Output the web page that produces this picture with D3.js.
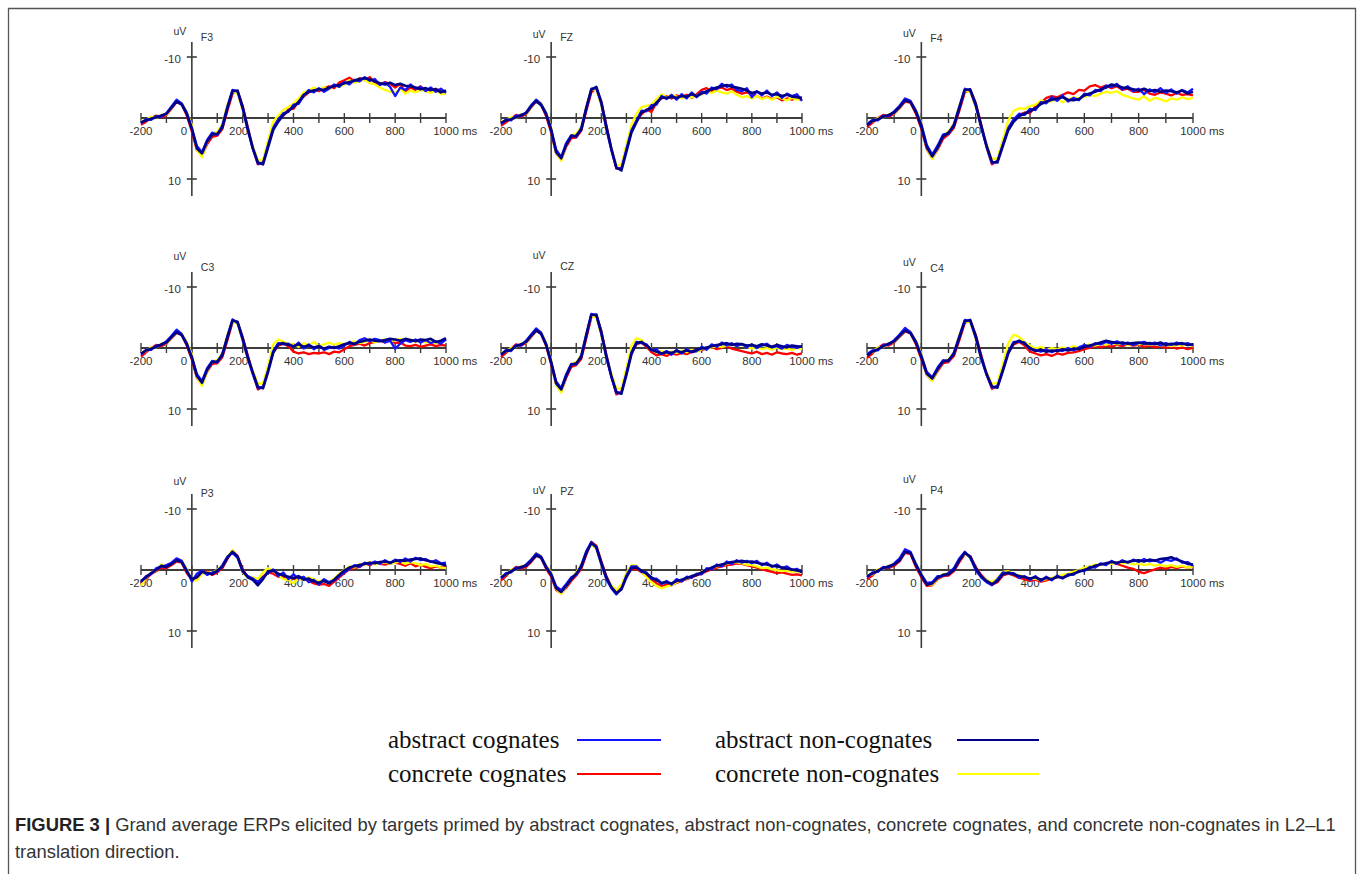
<!DOCTYPE html>
<html>
<head>
<meta charset="utf-8">
<script src="https://cdn.jsdelivr.net/npm/d3@7"></script>
<style>
  body { margin: 0; background: #fff; }
  svg { display: block; }
</style>
</head>
<body>
<svg width="1358" height="874"></svg>
<script>
// Sample times (ms) and axis ticks
var times = d3.range(-200, 1001, 20);
var xTicks = d3.range(-200, 1001, 100);
var xLabels = [-200, 0, 200, 400, 600, 800, 1000];
var yTicks = [-10, 10];

// Conditions (order of the series inside every electrode array)
var conditions = ['abstract cognates', 'concrete cognates', 'abstract non-cognates', 'concrete non-cognates'];
var colors = ['#1414ff', '#ff0000', '#00008b', '#ffff00'];
var electrodes = ['F3', 'FZ', 'F4', 'C3', 'CZ', 'C4', 'P3', 'PZ', 'P4'];

// Amplitudes in uV (negative up), every 20 ms from -200 to 1000
var F3 = [
  [0.9, 0.2, 0.3, -0.3, -0.2, -0.8, -1.9, -3.0, -2.4, -0.9,
   1.6, 4.6, 5.6, 3.6, 2.4, 2.8, 1.2, -1.9, -4.6, -4.3,
   -1.5, 2.0, 5.1, 7.5, 7.4, 4.4, 1.6, 0.2, -0.8, -1.0,
   -2.2, -2.3, -3.6, -4.6, -4.2, -4.9, -4.3, -4.8, -5.5, -5.1,
   -5.9, -5.5, -6.3, -6.0, -6.7, -6.1, -6.4, -5.4, -5.8, -5.1,
   -3.6, -5.0, -4.6, -5.5, -4.8, -5.1, -4.4, -5.0, -4.3, -4.8, -4.1],
  [1.1, 0.6, 0.0, -0.4, -0.1, -0.5, -1.5, -2.6, -2.3, -0.4,
   2.2, 5.3, 6.2, 4.3, 3.1, 2.9, 1.8, -1.2, -4.0, -4.4,
   -2.0, 1.5, 5.0, 7.6, 7.2, 4.3, 1.5, 0.3, -0.4, -1.4,
   -1.5, -2.8, -3.5, -4.2, -4.6, -4.4, -4.9, -5.2, -4.9, -5.8,
   -6.2, -6.6, -6.0, -6.5, -6.2, -6.7, -5.8, -5.5, -5.9, -5.6,
   -5.0, -5.6, -4.2, -5.0, -4.6, -5.2, -4.5, -4.3, -4.8, -4.4, -4.3],
  [0.7, 0.4, 0.1, -0.1, -0.4, -0.7, -1.7, -2.7, -2.2, -0.7,
   1.8, 5.0, 5.8, 3.9, 2.7, 2.6, 1.6, -1.6, -4.4, -4.5,
   -1.8, 1.7, 4.9, 7.3, 7.6, 4.8, 2.0, 0.6, -0.5, -1.2,
   -1.8, -2.6, -3.8, -4.3, -4.5, -4.7, -4.6, -5.0, -5.2, -5.4,
   -5.7, -5.9, -6.1, -6.4, -6.5, -6.3, -6.0, -5.7, -5.5, -5.8,
   -5.4, -5.6, -5.3, -5.2, -5.0, -4.7, -4.9, -4.6, -4.7, -4.2, -4.5],
  [0.5, 0.3, -0.2, 0.0, -0.5, -0.6, -1.6, -2.9, -2.5, -1.0,
   1.2, 5.3, 6.4, 4.0, 2.5, 2.3, 1.0, -2.2, -4.3, -4.0,
   -1.3, 2.0, 4.6, 7.0, 6.9, 3.6, 0.6, -0.4, -1.3, -1.8,
   -2.4, -3.2, -4.2, -4.5, -5.0, -4.6, -5.1, -4.7, -5.3, -5.1,
   -5.5, -6.2, -5.8, -6.0, -6.3, -5.7, -5.5, -5.0, -4.6, -4.3,
   -4.1, -4.8, -4.0, -4.5, -4.2, -4.6, -4.4, -4.1, -4.6, -3.9, -4.0]
];
var FZ = [
  [1.0, 0.2, 0.4, -0.4, -0.3, -0.9, -2.1, -3.0, -2.3, -0.8,
   1.8, 5.2, 6.4, 4.1, 2.8, 3.1, 1.6, -1.8, -4.8, -4.9,
   -2.3, 1.8, 5.3, 8.2, 8.3, 5.1, 2.0, 0.4, -1.2, -1.1,
   -2.1, -2.2, -3.6, -3.1, -3.8, -3.0, -3.9, -3.2, -4.2, -3.4,
   -4.3, -4.0, -5.0, -4.7, -5.6, -5.1, -5.5, -4.6, -4.4, -4.9,
   -3.4, -4.4, -3.7, -4.5, -3.6, -4.2, -3.3, -4.0, -3.6, -3.9, -2.8],
  [1.3, 0.7, 0.1, -0.5, -0.2, -0.6, -1.7, -2.7, -2.2, -0.3,
   2.4, 5.8, 6.9, 4.7, 3.3, 3.2, 2.1, -1.2, -4.2, -4.9,
   -2.7, 1.2, 5.1, 8.3, 8.2, 5.0, 2.1, 0.5, -0.6, -1.4,
   -1.0, -2.6, -3.2, -3.6, -3.2, -3.7, -3.4, -3.8, -3.3, -3.9,
   -4.6, -4.9, -4.4, -4.8, -5.0, -4.6, -4.8, -4.3, -4.0, -4.2,
   -3.9, -3.6, -3.2, -3.5, -3.1, -3.4, -2.9, -3.2, -3.0, -3.3, -2.9],
  [0.8, 0.4, 0.2, -0.1, -0.5, -0.8, -1.9, -2.8, -2.1, -0.6,
   2.0, 5.6, 6.6, 4.4, 3.0, 2.9, 1.9, -1.5, -4.6, -5.1,
   -2.6, 1.4, 5.0, 8.1, 8.6, 5.5, 2.4, 0.7, -0.9, -1.3,
   -1.6, -2.5, -3.4, -3.3, -3.5, -3.3, -3.6, -3.5, -3.9, -3.6,
   -4.0, -4.4, -4.7, -5.0, -5.2, -5.4, -5.1, -5.0, -4.8, -4.5,
   -4.1, -4.3, -4.0, -4.2, -3.8, -3.9, -3.6, -3.8, -3.5, -3.4, -3.3],
  [0.6, 0.3, -0.1, 0.0, -0.6, -0.7, -1.8, -2.9, -2.4, -0.9,
   1.5, 5.7, 7.0, 4.4, 2.8, 2.6, 1.4, -2.0, -4.7, -4.6,
   -2.0, 2.0, 5.0, 7.8, 7.6, 4.4, 1.1, -0.7, -1.8, -2.0,
   -2.2, -3.1, -3.9, -3.4, -3.8, -3.5, -3.2, -3.6, -3.4, -3.7,
   -3.9, -4.3, -4.1, -4.5, -4.2, -4.0, -4.4, -3.8, -3.4, -3.6,
   -3.2, -3.6, -3.1, -3.4, -3.0, -3.5, -3.2, -2.9, -3.3, -3.0, -3.1]
];
var F4 = [
  [1.0, 0.3, 0.4, -0.4, -0.3, -1.1, -2.0, -3.2, -2.8, -1.2,
   1.0, 4.4, 6.0, 4.5, 2.7, 2.6, 1.0, -1.9, -4.8, -4.5,
   -2.0, 1.5, 4.7, 7.4, 7.1, 4.3, 1.6, 0.2, -0.7, -0.5,
   -1.5, -1.3, -2.6, -2.4, -3.4, -2.8, -3.7, -2.7, -3.3, -2.9,
   -4.0, -3.7, -4.6, -4.4, -5.3, -5.1, -5.6, -4.7, -5.2, -4.4,
   -4.8, -3.9, -4.7, -4.2, -4.9, -4.1, -4.7, -4.0, -4.6, -4.2, -4.8],
  [1.5, 0.8, 0.0, -0.5, -0.2, -0.7, -1.6, -2.7, -2.5, -0.7,
   1.8, 5.1, 6.6, 5.2, 3.4, 2.7, 1.6, -1.2, -4.2, -4.6,
   -2.5, 1.0, 4.8, 7.6, 7.0, 4.2, 1.7, 0.4, -0.5, -0.9,
   -0.8, -1.9, -2.5, -3.3, -3.6, -3.4, -3.8, -4.2, -3.9, -4.6,
   -4.5, -5.2, -5.4, -5.0, -5.3, -4.9, -5.2, -4.6, -4.8, -4.3,
   -4.3, -4.6, -4.0, -3.8, -4.2, -4.0, -3.7, -4.1, -3.8, -3.9, -3.7],
  [1.2, 0.5, 0.2, -0.2, -0.5, -0.9, -1.8, -2.9, -2.6, -1.0,
   1.4, 4.8, 6.3, 4.9, 3.0, 2.4, 1.3, -1.6, -4.6, -4.7,
   -2.3, 1.2, 4.5, 7.2, 7.3, 4.6, 2.0, 0.6, -0.3, -0.7,
   -1.1, -1.6, -2.3, -2.7, -3.0, -3.2, -3.4, -3.0, -2.9, -3.1,
   -3.7, -4.0, -4.3, -4.7, -5.0, -5.5, -5.3, -5.0, -4.9, -4.7,
   -4.5, -4.8, -4.4, -4.6, -4.3, -4.5, -4.4, -4.2, -4.5, -4.0, -4.3],
  [0.8, 0.6, 0.0, -0.1, -0.6, -0.8, -1.7, -3.0, -2.7, -1.3,
   0.8, 5.0, 6.7, 5.0, 2.8, 2.2, 0.9, -2.1, -4.5, -4.3,
   -1.8, 1.6, 4.3, 6.8, 6.6, 3.5, 0.4, -1.2, -1.6, -1.5,
   -1.9, -2.2, -2.9, -2.5, -2.8, -3.1, -2.6, -3.0, -3.4, -3.2,
   -3.5, -3.8, -3.6, -4.0, -4.3, -4.1, -4.4, -3.8, -3.5, -3.2,
   -3.0, -3.6, -2.8, -3.3, -3.1, -2.7, -3.2, -3.0, -3.4, -3.1, -3.3]
];
var C3 = [
  [1.1, 0.3, 0.3, -0.4, -0.5, -1.1, -2.0, -3.0, -2.3, -0.8,
   1.4, 4.3, 5.4, 3.3, 2.1, 2.4, 0.9, -2.0, -4.7, -4.1,
   -1.3, 1.7, 4.3, 6.6, 6.4, 3.6, 0.5, -0.8, -0.6, -0.7,
   -0.2, -0.9, 0.1, -0.6, 0.2, -0.4, 0.3, 0.0, -0.2, 0.1,
   -0.4, -1.0, -0.6, -1.3, -1.6, -1.1, -1.5, -1.3, -0.9, -1.2,
   0.1, -0.7, -1.3, -1.0, -1.4, -0.9, -1.3, -0.8, -1.1, -0.7, -1.4],
  [1.4, 0.7, 0.0, -0.5, -0.3, -0.7, -1.6, -2.5, -2.2, -0.4,
   1.9, 4.9, 6.0, 3.9, 2.6, 2.5, 1.5, -1.3, -4.2, -4.2,
   -1.8, 1.2, 4.2, 6.8, 6.3, 3.5, 0.7, -0.4, -0.7, -0.3,
   0.6, 0.9, 0.7, 1.0, 0.8, 0.9, 0.7, 1.0, 0.6, 0.7,
   0.2, -0.3, -0.5, -0.7, -0.4, -0.8, -1.0, -1.2, -0.9, -1.3,
   -0.8, -0.9, -0.4, -0.3, -0.5, -0.2, -0.4, -0.6, -0.3, -0.5, -0.4],
  [0.9, 0.4, 0.1, -0.2, -0.6, -0.9, -1.8, -2.6, -2.1, -0.6,
   1.6, 4.6, 5.7, 3.6, 2.3, 2.2, 1.2, -1.7, -4.5, -4.3,
   -1.6, 1.4, 4.0, 6.4, 6.6, 3.9, 0.8, -0.6, -0.8, -0.5,
   -0.3, -0.6, -0.2, -0.4, -0.1, -0.3, 0.1, -0.2, 0.0, -0.3,
   -0.6, -0.8, -0.7, -1.0, -1.2, -1.4, -1.2, -1.1, -1.3, -1.5,
   -1.4, -1.2, -1.5, -1.3, -1.1, -1.4, -1.3, -1.5, -1.0, -1.2, -1.6],
  [0.7, 0.5, -0.1, -0.1, -0.7, -0.8, -1.7, -2.8, -2.4, -1.0,
   1.0, 4.8, 6.2, 3.8, 2.2, 2.0, 0.8, -2.2, -4.3, -3.9,
   -1.2, 1.8, 3.7, 5.9, 5.8, 2.9, -0.6, -1.4, -1.0, -0.7,
   -0.6, -0.2, -0.8, -0.4, -1.0, -0.3, -0.6, -0.9, -0.5, -0.8,
   -0.6, -0.9, -1.1, -0.8, -1.0, -1.3, -0.9, -1.2, -1.4, -1.1,
   -1.3, -1.5, -1.2, -1.4, -1.0, -1.2, -0.9, -1.1, -0.8, -1.0, -1.2]
];
var CZ = [
  [1.2, 0.3, 0.5, -0.5, -0.4, -1.2, -2.2, -3.2, -2.5, -0.7,
   2.2, 5.5, 6.6, 4.3, 2.6, 2.7, 1.2, -2.3, -5.6, -5.3,
   -2.3, 1.6, 4.8, 7.4, 7.3, 4.1, 0.7, -1.0, -0.8, -0.6,
   0.4, 0.2, 1.0, 0.5, 1.1, 0.3, 0.9, 0.2, 0.7, 0.5,
   -0.2, 0.3, -0.6, -0.2, -0.9, -0.4, -0.8, -0.3, -0.7, -0.1,
   -0.6, 0.0, -0.4, -0.7, -0.1, -0.3, 0.1, -0.5, -0.2, 0.0, -0.3],
  [1.5, 0.8, 0.1, -0.6, -0.4, -0.8, -1.8, -2.8, -2.4, -0.3,
   2.7, 6.0, 7.1, 4.9, 3.1, 2.8, 1.8, -1.6, -5.0, -5.4,
   -2.8, 1.1, 4.5, 7.6, 7.2, 4.0, 0.8, -0.6, -0.9, -0.2,
   0.7, 1.2, 1.0, 1.3, 0.9, 1.1, 0.8, 1.0, 0.6, 0.5,
   0.3, 0.1, -0.2, 0.2, 0.0, -0.3, 0.1, 0.3, 0.5, 0.7,
   0.9, 0.6, 1.0, 0.8, 1.1, 0.7, 0.9, 1.0, 0.8, 1.1, 0.9],
  [1.0, 0.5, 0.3, -0.3, -0.6, -1.0, -2.0, -2.9, -2.3, -0.5,
   2.4, 5.8, 6.8, 4.6, 2.8, 2.5, 1.5, -2.0, -5.4, -5.5,
   -2.6, 1.3, 4.6, 7.2, 7.5, 4.4, 1.0, -0.8, -1.0, -0.4,
   0.3, 0.6, 0.9, 0.7, 0.8, 0.5, 0.7, 0.4, 0.6, 0.3,
   0.1, -0.1, -0.3, -0.5, -0.6, -0.8, -0.5, -0.7, -0.6, -0.4,
   -0.5, -0.3, -0.6, -0.4, -0.2, -0.5, -0.3, -0.1, -0.4, -0.3, -0.2],
  [0.8, 0.6, 0.0, -0.2, -0.7, -0.9, -1.9, -3.0, -2.6, -0.9,
   1.9, 6.1, 7.3, 4.5, 2.6, 2.3, 1.1, -2.4, -5.2, -5.0,
   -2.0, 1.7, 4.2, 6.7, 6.6, 3.3, -0.4, -1.6, -1.3, -0.5,
   0.2, 0.7, 0.5, 0.9, 0.6, 0.8, 0.4, 0.7, 0.3, 0.6,
   0.2, 0.0, -0.1, -0.3, -0.2, -0.4, -0.6, -0.3, -0.5, -0.2,
   0.1, -0.2, 0.2, 0.0, 0.3, -0.1, 0.2, 0.1, 0.3, 0.0, 0.2]
];
var C4 = [
  [1.0, 0.4, 0.4, -0.5, -0.6, -1.3, -2.2, -3.3, -2.6, -1.1,
   1.2, 3.9, 4.8, 3.2, 2.0, 2.2, 0.7, -2.0, -4.6, -4.4,
   -1.7, 1.7, 4.4, 6.5, 6.3, 3.5, 0.6, -1.0, -1.0, -0.9,
   0.2, 0.3, 0.6, 0.2, 0.7, 0.3, 0.5, 0.0, 0.4, -0.1,
   -0.5, -0.2, -0.8, -0.6, -1.0, -0.7, -1.1, -0.6, -0.9, -0.5,
   -0.8, -1.0, -0.6, -0.9, -0.4, -0.8, -0.5, -0.9, -0.6, -0.8, -0.4],
  [1.6, 0.9, 0.0, -0.6, -0.4, -0.9, -1.8, -2.7, -2.5, -0.6,
   1.8, 4.4, 5.3, 3.8, 2.5, 2.3, 1.3, -1.3, -4.1, -4.5,
   -2.2, 1.1, 4.3, 6.7, 6.2, 3.4, 0.7, -0.6, -1.0, -0.4,
   0.6, 0.9, 1.2, 1.0, 1.3, 0.9, 1.1, 0.8, 0.7, 0.5,
   0.2, 0.0, -0.3, -0.1, -0.4, -0.2, -0.5, -0.3, -0.6, -0.4,
   -0.5, -0.2, -0.4, -0.1, -0.3, 0.0, -0.2, 0.1, -0.1, 0.2, 0.0],
  [1.2, 0.6, 0.2, -0.3, -0.7, -1.1, -2.0, -2.9, -2.4, -0.9,
   1.5, 4.2, 5.0, 3.5, 2.2, 2.0, 1.0, -1.7, -4.4, -4.6,
   -2.0, 1.4, 4.2, 6.3, 6.5, 3.8, 0.9, -0.8, -1.2, -0.7,
   0.0, 0.5, 0.3, 0.6, 0.4, 0.5, 0.2, 0.4, 0.1, 0.2,
   -0.2, -0.4, -0.6, -0.9, -1.2, -1.0, -0.8, -0.9, -0.7, -0.8,
   -0.9, -0.7, -0.8, -0.6, -0.9, -0.5, -0.7, -0.6, -0.8, -0.5, -0.6],
  [0.9, 0.7, -0.1, -0.2, -0.8, -1.0, -1.9, -3.0, -2.7, -1.2,
   0.9, 4.3, 5.4, 3.6, 2.1, 1.9, 0.7, -2.2, -4.4, -4.2,
   -1.5, 1.8, 3.9, 5.9, 5.7, 2.6, -0.8, -2.2, -1.8, -1.0,
   -0.4, 0.1, -0.2, 0.3, 0.0, 0.2, -0.1, 0.1, -0.3, 0.0,
   -0.3, -0.6, -0.4, -0.7, -0.5, -0.9, -0.6, -0.8, -0.5, -0.7,
   -0.6, -0.8, -0.5, -0.7, -0.4, -0.6, -0.3, -0.5, -0.4, -0.6, -0.3]
];
var P3 = [
  [2.0, 1.0, 0.7, -0.3, -0.5, -0.8, -1.2, -1.9, -1.5, 0.0,
   1.9, 0.6, 0.1, 0.8, 0.4, 0.3, -0.8, -2.2, -2.8, -2.0,
   0.3, 1.0, 1.4, 2.0, 1.2, 0.5, -0.1, 1.0, 0.4, 1.5,
   0.7, 1.4, 1.1, 2.0, 1.6, 2.4, 1.5, 2.0, 1.7, 1.0,
   0.4, -0.2, -0.8, -0.5, -1.2, -0.9, -1.4, -1.0, -1.6, -1.1,
   -1.7, -1.3, -1.9, -1.4, -2.0, -1.6, -1.8, -1.3, -1.6, -1.1, -1.2],
  [2.3, 1.5, 0.6, 0.2, -0.4, -0.3, -0.8, -1.4, -1.2, 0.5,
   1.6, 1.3, 0.5, 0.2, 0.8, 0.4, -0.3, -1.8, -3.2, -2.3,
   -0.1, 1.1, 1.5, 1.8, 1.1, 0.4, 0.6, 1.1, 1.2, 1.3,
   1.4, 1.5, 1.3, 1.8, 2.2, 2.4, 2.3, 2.6, 1.9, 1.2,
   0.5, -0.1, -0.3, -0.5, -1.1, -0.8, -1.2, -1.0, -0.9, -1.1,
   -1.2, -1.0, -0.7, -1.1, -0.6, -0.9, -0.5, -0.3, -0.6, -0.4, -0.5],
  [1.8, 1.2, 0.5, 0.0, -0.7, -0.5, -1.0, -1.6, -1.3, 0.2,
   1.5, 1.2, 0.3, 0.5, 0.7, 0.1, -0.5, -2.0, -3.0, -2.2,
   0.1, 1.2, 1.6, 2.5, 1.5, 0.2, 0.1, 0.6, 0.9, 1.1,
   1.3, 1.0, 1.6, 1.4, 1.9, 2.1, 1.8, 2.2, 1.6, 0.8,
   0.1, -0.4, -0.6, -0.8, -1.0, -1.2, -1.1, -1.3, -1.4, -1.2,
   -1.5, -1.6, -1.5, -1.7, -1.8, -1.9, -1.6, -1.4, -1.2, -1.0, -0.8],
  [2.5, 1.3, 0.4, 0.1, -0.9, -0.6, -1.1, -1.8, -1.6, -0.2,
   1.8, 1.7, 0.6, 0.4, 0.5, 0.0, -0.7, -2.2, -3.3, -2.0,
   0.4, 1.3, 1.2, 1.5, 0.4, -0.3, 0.2, 0.8, 1.5, 1.6,
   2.2, 1.3, 1.7, 1.2, 1.5, 1.9, 1.6, 2.0, 1.4, 0.6,
   0.0, -0.6, -0.4, -1.0, -0.8, -1.3, -0.9, -1.1, -1.3, -1.0,
   -1.2, -1.4, -1.0, -1.3, -1.1, -0.8, -1.0, -0.6, -0.7, -0.4, -0.3]
];
var PZ = [
  [1.4, 0.5, 0.4, -0.4, -0.3, -0.9, -1.7, -2.7, -2.2, -0.6,
   0.6, 2.7, 3.3, 2.3, 1.2, 0.8, -0.8, -3.1, -4.6, -3.6,
   -0.9, 1.5, 3.0, 4.0, 3.0, 0.9, -0.6, -0.6, 0.3, 0.4,
   1.5, 1.4, 2.3, 1.8, 2.4, 1.5, 1.9, 1.1, 1.3, 0.6,
   0.7, -0.3, -0.1, -0.9, -0.6, -1.4, -1.0, -1.6, -1.2, -1.5,
   -1.1, -1.5, -0.8, -1.2, -0.5, -0.9, -0.3, -0.6, 0.0, -0.2, 0.4],
  [1.7, 1.0, 0.1, -0.5, -0.2, -0.5, -1.3, -2.3, -2.1, -0.2,
   1.1, 3.3, 3.8, 2.9, 1.8, 0.9, -0.2, -2.5, -4.6, -4.0,
   -1.4, 1.0, 2.7, 3.6, 2.9, 1.0, -0.1, -0.2, 0.4, 1.0,
   1.6, 2.2, 2.6, 2.4, 2.5, 2.1, 1.8, 1.5, 1.2, 0.9,
   0.6, 0.2, -0.1, -0.4, -0.6, -0.8, -0.9, -1.1, -1.0, -0.8,
   -0.6, -0.4, -0.1, 0.1, 0.3, 0.5, 0.4, 0.6, 0.8, 0.7, 0.9],
  [1.2, 0.7, 0.2, -0.2, -0.5, -0.7, -1.5, -2.4, -2.0, -0.4,
   0.8, 3.0, 3.6, 2.6, 1.5, 0.6, -0.5, -2.8, -4.4, -3.8,
   -1.2, 1.2, 2.8, 3.8, 3.2, 1.2, -0.3, -0.4, 0.1, 0.6,
   1.2, 1.7, 2.1, 2.0, 2.2, 1.8, 1.6, 1.3, 1.0, 0.8,
   0.4, 0.0, -0.4, -0.7, -0.9, -1.1, -1.3, -1.4, -1.5, -1.3,
   -1.4, -1.2, -1.0, -0.9, -0.7, -0.6, -0.4, -0.2, -0.1, 0.1, 0.3],
  [1.0, 0.8, 0.0, -0.1, -0.6, -0.8, -1.6, -2.8, -2.3, -0.7,
   0.4, 3.1, 3.9, 2.7, 1.3, 0.4, -0.9, -3.0, -4.2, -3.5,
   -0.8, 1.4, 2.5, 3.3, 2.4, 0.5, -0.8, -0.7, 0.3, 1.2,
   2.0, 2.6, 3.0, 2.7, 2.5, 2.0, 1.6, 1.4, 1.1, 0.7,
   0.3, -0.1, -0.3, -0.6, -0.8, -1.0, -1.2, -1.3, -1.1, -0.9,
   -0.8, -0.6, -0.3, -0.4, -0.1, 0.0, 0.2, 0.1, 0.3, 0.2, 0.4]
];
var P4 = [
  [1.2, 0.4, 0.3, -0.5, -0.4, -1.1, -1.9, -3.4, -3.0, -1.0,
   0.7, 2.1, 2.0, 1.0, 1.0, 0.5, -0.3, -1.9, -3.0, -2.0,
   0.0, 1.2, 2.0, 2.5, 1.5, 0.4, 0.6, 0.5, 1.3, 1.0,
   1.6, 1.0, 1.8, 1.1, 1.7, 0.9, 1.4, 0.7, 0.8, 0.1,
   0.2, -0.5, -0.4, -1.1, -0.8, -1.5, -1.0, -1.6, -1.2, -1.7,
   -1.3, -1.8, -1.4, -1.6, -1.2, -1.7, -1.5, -1.9, -1.2, -1.3, -0.7],
  [1.5, 0.9, 0.0, -0.4, -0.3, -0.7, -1.4, -2.8, -2.6, -0.5,
   1.2, 2.6, 2.5, 1.5, 1.0, 0.9, 0.2, -1.3, -2.6, -2.3,
   -0.5, 0.8, 1.7, 2.4, 2.0, 0.9, 0.6, 0.9, 1.3, 1.5,
   1.8, 1.6, 1.9, 1.7, 1.4, 1.2, 0.9, 0.7, 0.4, 0.2,
   -0.2, -0.5, -0.6, -0.9, -1.0, -1.2, -1.0, -0.7, -0.4, -0.2,
   0.3, 0.5, 0.2, -0.1, -0.4, -0.2, -0.5, -0.3, -0.6, -0.4, -0.5],
  [1.0, 0.6, 0.1, -0.3, -0.6, -0.9, -1.6, -3.0, -2.8, -0.8,
   0.9, 2.4, 2.2, 1.3, 0.8, 0.7, 0.0, -1.6, -2.8, -2.2,
   -0.3, 1.0, 1.8, 2.3, 1.8, 0.7, 0.4, 0.7, 1.0, 1.2,
   1.4, 1.2, 1.6, 1.3, 1.5, 1.1, 1.3, 0.9, 0.6, 0.3,
   0.0, -0.3, -0.7, -0.9, -1.1, -1.3, -1.2, -1.4, -1.3, -1.5,
   -1.6, -1.4, -1.7, -1.5, -1.8, -1.9, -2.1, -1.7, -1.4, -1.0, -0.9],
  [0.8, 0.7, -0.1, -0.2, -0.7, -1.0, -1.7, -3.1, -2.9, -1.1,
   0.6, 2.3, 2.4, 1.4, 0.7, 0.5, -0.2, -1.8, -2.7, -2.0,
   -0.2, 1.1, 1.6, 2.0, 1.4, 0.3, 0.2, 0.6, 0.9, 1.1,
   1.5, 1.4, 1.7, 1.5, 1.3, 1.0, 0.8, 0.6, 0.3, 0.0,
   -0.4, -0.6, -0.9, -0.8, -1.1, -1.0, -1.3, -1.1, -1.2, -0.9,
   -1.1, -0.8, -1.0, -0.7, -0.9, -0.6, -0.8, -0.5, -0.7, -0.4, -0.6]
];
var amplitudes = { F3: F3, FZ: FZ, F4: F4, C3: C3, CZ: CZ, C4: C4, P3: P3, PZ: PZ, P4: P4 };

// Layout: x pixel range (-200 .. 1000 ms) per column, zero line y per row
var colRange = [[141, 446], [501, 802], [867, 1193]];
var rowZero = [118, 348, 570];
var yHalf = 61;                     // pixels for 10 uV
// baselines of the "uV" and electrode labels, per panel
var labelY = [[35, 41], [38, 41], [37, 42], [260, 271], [259, 270], [266, 272], [485, 497], [494, 495], [483, 494]];

var svg = d3.select('svg');
var font = '"Liberation Sans", Arial, sans-serif';
var axisColor = '#3c3c3c';

// Frame around the figure (open at the bottom)
svg.append('path')
  .attr('d', 'M8.5,874V8.5H1355.5V874')
  .attr('fill', 'none')
  .attr('stroke', '#555')
  .attr('stroke-width', 1.3);

// Draw order of the series (navy on top)
var drawOrder = [1, 3, 0, 2];

electrodes.forEach(function (name, k) {
  var col = k % 3, row = Math.floor(k / 3);
  var x = d3.scaleLinear().domain([-200, 1000]).range(colRange[col]);
  var y = d3.scaleLinear().domain([-10, 10]).range([rowZero[row] - yHalf, rowZero[row] + yHalf]);
  var g = svg.append('g').attr('class', 'panel');
  var x0 = x(0), z = y(0);

  // y axis
  g.append('line')
    .attr('x1', x0).attr('x2', x0)
    .attr('y1', z - 76).attr('y2', z + 78)
    .attr('stroke', axisColor).attr('stroke-width', 1.6);
  g.selectAll('.ytick').data(yTicks).enter().append('line')
    .attr('x1', x0 - 5).attr('x2', x0 + 5)
    .attr('y1', function (d) { return y(d); })
    .attr('y2', function (d) { return y(d); })
    .attr('stroke', axisColor).attr('stroke-width', 1.6);
  g.selectAll('.ylab').data(yTicks).enter().append('text')
    .attr('x', x0 - 11)
    .attr('y', function (d) { return y(d) + 6; })
    .attr('text-anchor', 'end')
    .attr('font-family', font).attr('font-size', 11.5).attr('fill', '#333')
    .text(function (d) { return d; });

  // x axis along 0 uV
  g.append('line')
    .attr('x1', x(-200)).attr('x2', x(1000))
    .attr('y1', z).attr('y2', z)
    .attr('stroke', axisColor).attr('stroke-width', 1.8);
  g.selectAll('.xtick').data(xTicks).enter().append('line')
    .attr('x1', function (d) { return x(d); })
    .attr('x2', function (d) { return x(d); })
    .attr('y1', z - 5).attr('y2', z + 5)
    .attr('stroke', axisColor).attr('stroke-width', 1.4);
  g.selectAll('.xlab').data(xLabels).enter().append('text')
    .attr('x', function (d) { return x(d) + (d === 0 ? -8 : d === 200 ? -4 : 0); })
    .attr('y', z + 17)
    .attr('text-anchor', 'middle')
    .attr('font-family', font).attr('font-size', 11.5).attr('fill', '#333')
    .text(function (d) { return d; });
  g.append('text')
    .attr('x', x(1000) + 16).attr('y', z + 17)
    .attr('font-family', font).attr('font-size', 11.5).attr('fill', '#333')
    .text('ms');

  // labels
  g.append('text')
    .attr('x', x0 - 12).attr('y', labelY[k][0])
    .attr('text-anchor', 'middle')
    .attr('font-family', font).attr('font-size', 10.5).attr('fill', '#333')
    .text('uV');
  g.append('text')
    .attr('x', x0 + 9).attr('y', labelY[k][1])
    .attr('font-family', font).attr('font-size', 10.5).attr('fill', '#333')
    .text(name);

  // waveforms
  var line = d3.line()
    .x(function (d, i) { return x(times[i]); })
    .y(function (d) { return y(d); });
  drawOrder.forEach(function (s) {
    g.append('path')
      .datum(amplitudes[name][s])
      .attr('fill', 'none')
      .attr('stroke', colors[s])
      .attr('stroke-width', s === 2 ? 2.6 : 2.3)
      .attr('stroke-linejoin', 'round')
      .attr('d', line);
  });
});

// Legend
var legendX = [[388, 577, 661], [388, 577, 661], [715, 957, 1039], [715, 957, 1039]];
var legendY = [740, 774, 740, 774];
conditions.forEach(function (c, i) {
  svg.append('text')
    .attr('x', legendX[i][0]).attr('y', legendY[i] + 8)
    .attr('font-family', '"Liberation Serif", "Times New Roman", serif')
    .attr('font-size', 25).attr('fill', '#111')
    .text(c);
  svg.append('line')
    .attr('x1', legendX[i][1]).attr('x2', legendX[i][2])
    .attr('y1', legendY[i]).attr('y2', legendY[i])
    .attr('stroke', colors[i]).attr('stroke-width', 1.8);
});

// Caption
var caption = svg.append('text')
  .attr('x', 15).attr('y', 831)
  .attr('font-family', font).attr('font-size', 18.4).attr('fill', '#333');
caption.append('tspan').attr('font-weight', 'bold').attr('fill', '#222').text('FIGURE 3 | ');
caption.append('tspan').text('Grand average ERPs elicited by targets primed by abstract cognates, abstract non-cognates, concrete cognates, and concrete non-cognates in L2\u2013L1');
svg.append('text')
  .attr('x', 15).attr('y', 858)
  .attr('font-family', font).attr('font-size', 18.4).attr('fill', '#333')
  .text('translation direction.');
</script>
</body>
</html>
